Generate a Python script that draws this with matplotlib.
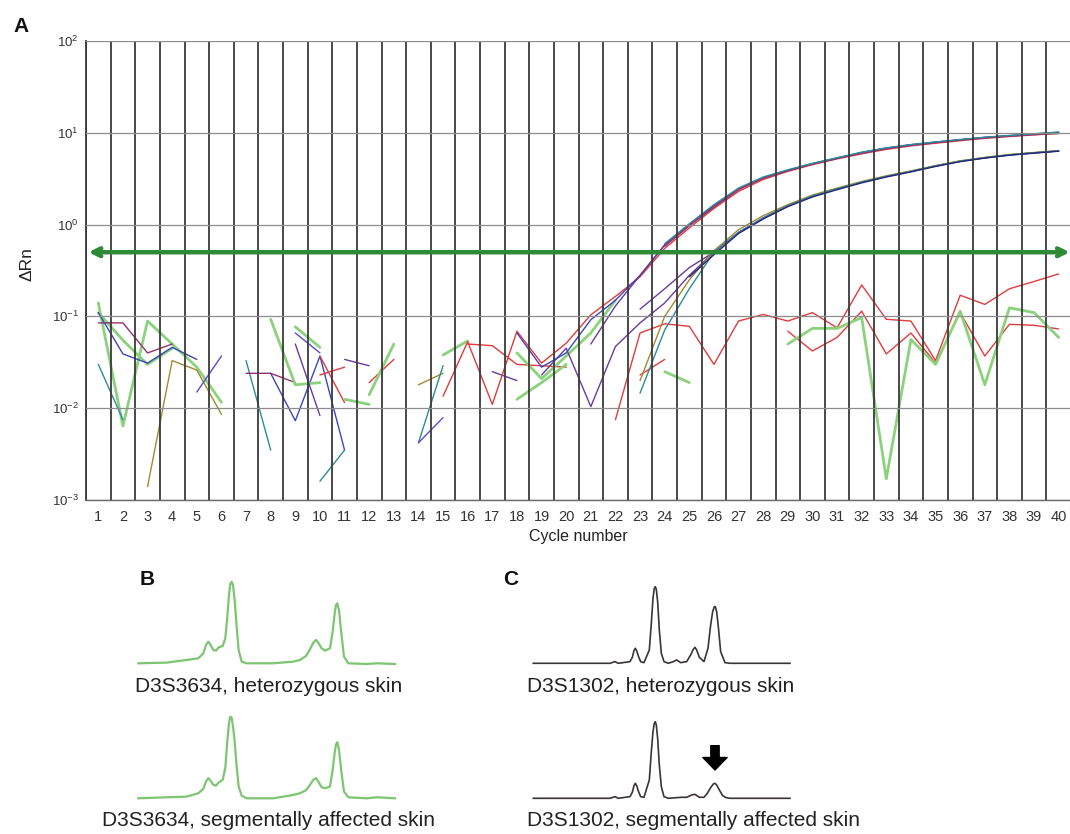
import numpy as np
import matplotlib
matplotlib.use('Agg')
import matplotlib.pyplot as plt
from matplotlib.ticker import NullLocator

plt.rcParams['font.family'] = ['Liberation Sans', 'DejaVu Sans']
plt.rcParams['mathtext.fontset'] = 'custom'
plt.rcParams['mathtext.rm'] = 'Liberation Sans'
plt.rcParams['mathtext.it'] = 'Liberation Sans:italic'

W, H = 1070, 834

# ---- panel A data: delta Rn per cycle, (colour key, first cycle, values)
RED, GREEN, BLUE, PURPLE = '#e23b3b', '#8bd27c', '#3a46c2', '#6b3a9c'
MAGENTA, TEAL, OLIVE, NAVY, VIOLET = '#9a2f6e', '#2b8c98', '#a08a32', '#25267c', '#5a4bd0'

threshold = 0.5

up_tail = [0.6, 1.0, 1.6, 2.45, 3.25, 3.9, 4.6, 5.3, 6.1, 6.8, 7.4, 7.9, 8.4, 8.9, 9.3, 9.7, 10.1]
red_tail = [0.55, 0.92, 1.5, 2.3, 3.1, 3.8, 4.5, 5.2, 5.9, 6.6, 7.2, 7.7, 8.2, 8.7, 9.1, 9.5, 9.8]
teal_tail = [0.62, 1.02, 1.65, 2.5, 3.3, 3.95, 4.65, 5.35, 6.15, 6.85, 7.45, 7.95, 8.45, 8.95, 9.35, 9.75, 10.2]
mag_tail = [0.58, 0.97, 1.55, 2.4, 3.2, 3.85, 4.55, 5.25, 6.0, 6.7, 7.3, 7.8, 8.3, 8.8, 9.2, 9.55, 9.9]
lo_tail = [0.5, 0.82, 1.18, 1.6, 2.05, 2.45, 2.9, 3.35, 3.8, 4.35, 4.9, 5.35, 5.75, 6.05, 6.35]
olive_tail = [0.52, 0.88, 1.25, 1.65, 2.1, 2.5, 2.95, 3.4, 3.85, 4.4, 4.95, 5.4, 5.8, 6.1, 6.4]
navy_tail = [0.47, 0.8, 1.15, 1.57, 2.0, 2.4, 2.85, 3.3, 3.75, 4.3, 4.85, 5.3, 5.7, 6.0, 6.3]

noise = [
    (GREEN, 1, [0.14, 0.0064, 0.089, 0.05, 0.028, 0.0116]),
    (GREEN, 1, [0.11, 0.055, 0.03, 0.045]),
    (MAGENTA, 1, [0.085, 0.085, 0.04, 0.05]),
    (BLUE, 1, [0.11, 0.039, 0.031, 0.046, 0.034]),
    (TEAL, 1, [0.03, 0.0075]),
    (OLIVE, 3, [0.0014, 0.033, 0.026, 0.0086]),
    (VIOLET, 5, [0.015, 0.037]),
    (TEAL, 7, [0.033, 0.0035]),
    (MAGENTA, 7, [0.024, 0.024, 0.019]),
    (BLUE, 8, [0.024, 0.0073, 0.037, 0.0035]),
    (GREEN, 8, [0.093, 0.018, 0.019]),
    (GREEN, 9, [0.077, 0.046]),
    (VIOLET, 9, [0.066, 0.04]),
    (PURPLE, 9, [0.05, 0.0083]),
    (RED, 10, [0.037, 0.0115]),
    (RED, 10, [0.023, 0.028]),
    (TEAL, 10, [0.0016, 0.0035]),
    (GREEN, 11, [0.0125, 0.011]),
    (PURPLE, 11, [0.034, 0.029]),
    (RED, 12, [0.019, 0.034]),
    (GREEN, 12, [0.014, 0.05]),
    (OLIVE, 14, [0.018, 0.024]),
    (TEAL, 14, [0.0042, 0.029]),
    (VIOLET, 14, [0.0042, 0.0079]),
    (GREEN, 15, [0.038, 0.054]),
    (RED, 16, [0.05, 0.048, 0.03, 0.029, 0.028]),
    (PURPLE, 17, [0.025, 0.02]),
    (GREEN, 18, [0.0125, 0.019, 0.03]),
    (RED, 22, [0.0075, 0.066, 0.083, 0.078, 0.03, 0.089, 0.105, 0.089, 0.11, 0.075,
               0.22, 0.093, 0.089, 0.033, 0.17, 0.135, 0.2, 0.24, 0.29]),
    (RED, 23, [0.023, 0.034]),
    (GREEN, 24, [0.025, 0.019]),
    (RED, 29, [0.069, 0.042, 0.059, 0.114, 0.039, 0.066, 0.031, 0.11, 0.037, 0.082, 0.08, 0.073]),
    (GREEN, 29, [0.05, 0.074, 0.074, 0.097, 0.0017, 0.056, 0.03, 0.114, 0.018, 0.124, 0.11, 0.059]),
]

amplified = [
    (GREEN, 18, [0.04, 0.021, 0.037, 0.066, 0.15]),
    (PURPLE, 19, [0.023, 0.045, 0.0104, 0.047, 0.085, 0.14, 0.28] + lo_tail),
    (PURPLE, 23, [0.12, 0.2, 0.34] + lo_tail),
    (OLIVE, 23, [0.02, 0.1, 0.25] + olive_tail),
    (TEAL, 23, [0.0146, 0.071, 0.2] + lo_tail),
    (NAVY, 25, [0.27] + navy_tail),
    (RED, 15, [0.0135, 0.053, 0.011, 0.069, 0.031, 0.051, 0.104, 0.165, 0.27] + red_tail),
    (BLUE, 18, [0.066, 0.028, 0.04, 0.092, 0.15, 0.28] + up_tail),
    (PURPLE, 21, [0.05, 0.13, 0.28] + up_tail),
    (MAGENTA, 24, mag_tail),
    (TEAL, 24, teal_tail),
]

# ---- panels B/C: electropherogram traces (size axis, peak height)
b_x = [115, 200, 260, 295, 310, 318, 325, 332, 340, 348, 356, 368, 376, 382, 387, 391, 395, 399,
       404, 410, 416, 425, 440, 520, 580, 600, 618, 630, 640, 648, 656, 665, 675, 690, 698, 704,
       708, 712, 717, 724, 732, 745, 800, 830, 885]
b_top_h = [0, 2, 10, 15, 30, 55, 65, 55, 40, 38, 48, 52, 75, 140, 205, 238, 245, 235,
           190, 110, 40, 5, 0, 0, 5, 10, 22, 42, 62, 70, 60, 45, 38, 45, 95, 150,
           175, 180, 160, 90, 20, 0, -2, 0, -2]
b_bot_h = [0, 3, 5, 15, 28, 50, 60, 52, 40, 38, 47, 55, 90, 170, 225, 243, 240, 215,
           170, 95, 35, 8, 0, 0, 10, 15, 24, 40, 55, 60, 48, 33, 30, 35, 85, 135,
           160, 167, 145, 80, 20, 3, 0, 3, 0]
c_top_x = [100, 330, 345, 355, 390, 397, 402, 406, 410, 415, 422, 432, 448, 454, 459, 463, 466,
           469, 473, 478, 484, 492, 505, 520, 530, 542, 560, 572, 580, 585, 590, 598, 612, 624,
           632, 638, 643, 646, 650, 655, 662, 675, 690, 870]
c_top_h = [0, 0, 5, 0, 5, 18, 38, 45, 38, 22, 5, 2, 40, 120, 195, 225, 230,
           222, 185, 100, 30, 5, 0, 5, 10, 2, 5, 25, 42, 48, 40, 18, 5, 45,
           115, 155, 170, 170, 155, 110, 35, 2, 0, 0]
c_bot_x = [100, 330, 345, 355, 390, 397, 402, 406, 410, 415, 422, 432, 448, 454, 459, 463, 466,
           469, 473, 478, 484, 492, 505, 545, 560, 575, 585, 598, 612, 622, 632, 640, 645, 650,
           658, 668, 678, 690, 870]
c_bot_h = [0, 0, 5, 0, 5, 18, 38, 45, 38, 22, 5, 3, 55, 140, 200, 225, 230,
           220, 180, 100, 35, 5, 0, 3, 3, 10, 12, 3, 3, 15, 32, 43, 45, 40,
           25, 8, 2, 0, 0]
lost_allele = 645

b_labels = ['D3S3634, heterozygous skin', 'D3S3634, segmentally affected skin']
c_labels = ['D3S1302, heterozygous skin', 'D3S1302, segmentally affected skin']


def px_box(x0, y0, x1, y1):
    # pixel box (top-left origin) -> figure fraction rect
    return [x0 / W, 1 - y1 / H, (x1 - x0) / W, (y1 - y0) / H]


def fx(x):
    return x / W


def fy(y):
    return 1 - y / H


fig = plt.figure(figsize=(W / 100, H / 100), dpi=100)

# ---------------- panel A
ax = fig.add_axes(px_box(86, 41, 1071, 500))
ax.set_yscale('log')
for col, start, vals in noise + amplified:
    cyc = np.arange(start, start + len(vals))
    lw = 2.0 if col == GREEN else 1.0
    ax.plot(cyc, vals, color=col, lw=lw, zorder=2, solid_capstyle='round')

ax.set_xlim(0.5, 40.5)
ax.set_ylim(1e-3, 1e2)
ax.set_xticks(np.arange(1, 41))
ax.set_xticks(np.arange(0.5, 41), minor=True)
ax.set_yticks([1e-3, 1e-2, 1e-1, 1e0, 1e1, 1e2])
ax.yaxis.set_minor_locator(NullLocator())
ax.set_yticklabels([r'$10^{-3}$', r'$10^{-2}$', r'$10^{-1}$', r'$10^{0}$', r'$10^{1}$', r'$10^{2}$'],
                   fontsize=9.5, color='#333333')
ax.set_xticklabels([str(i) for i in range(1, 41)], fontsize=10.5, color='#333333')
ax.tick_params(which='both', length=0)
ax.tick_params(axis='x', pad=7)
ax.tick_params(axis='y', pad=5)
ax.set_axisbelow(False)
ax.grid(which='minor', axis='x', color='#3a3a3a', lw=1.3)
ax.grid(which='major', axis='y', color='#8c8c8c', lw=0.9)
ax.grid(which='major', axis='x', visible=False)
for s in ax.spines.values():
    s.set_visible(False)
ax.spines['left'].set_visible(True)
ax.spines['left'].set_color('#3a3a3a')
ax.spines['left'].set_linewidth(1.3)
ax.spines['bottom'].set_visible(True)
ax.spines['bottom'].set_color('#6a6a6a')
ax.spines['bottom'].set_linewidth(1.0)

ax.annotate('', xy=(0.6, threshold), xytext=(40.45, threshold),
            arrowprops=dict(arrowstyle='<->', color='#2f8a36', lw=3.2,
                            shrinkA=0, shrinkB=0, mutation_scale=14), zorder=4)

fig.text(fx(578), fy(537), 'Cycle number', fontsize=11.5, ha='center', va='center', color='#222222')
fig.text(fx(27), fy(264), 'ΔRn', fontsize=12.5, rotation=90, ha='center', va='center', color='#222222')
fig.text(fx(13), fy(32), 'A', fontsize=15, fontweight='bold', color='#111111')
fig.text(fx(140), fy(585), 'B', fontsize=15, fontweight='bold', color='#111111')
fig.text(fx(503), fy(585), 'C', fontsize=15, fontweight='bold', color='#111111')


# ---------------- panels B and C
def trace(box, xs, hs, col, lw):
    t = fig.add_axes(px_box(*box))
    t.plot(xs, hs, color=col, lw=lw, clip_on=False, solid_joinstyle='round')
    t.set_xlim(min(xs), max(xs))
    t.set_ylim(0, max(hs))
    t.axis('off')
    return t


green_tr = '#7cc571'
dark_tr = '#3b3434'
trace((138.3, 581.7, 395, 663.3), b_x, b_top_h, green_tr, 1.6)
trace((138.3, 716.7, 395, 798.3), b_x, b_bot_h, green_tr, 1.6)
trace((533.3, 586.7, 790, 663.3), c_top_x, c_top_h, dark_tr, 1.2)
tc = trace((533.3, 721.7, 790, 798.3), c_bot_x, c_bot_h, dark_tr, 1.2)
tc.annotate('', xy=(lost_allele, 85), xytext=(lost_allele, 158),
            arrowprops=dict(arrowstyle='simple,head_width=1.75,head_length=0.9,tail_width=0.6',
                            color='black', shrinkA=0, shrinkB=0, mutation_scale=10),
            annotation_clip=False)

fig.text(fx(269), fy(691.5), b_labels[0], fontsize=15, ha='center', va='baseline', color='#222222')
fig.text(fx(269), fy(826), b_labels[1], fontsize=15, ha='center', va='baseline', color='#222222')
fig.text(fx(527), fy(691.5), c_labels[0], fontsize=15, ha='left', va='baseline', color='#222222')
fig.text(fx(527), fy(826), c_labels[1], fontsize=15, ha='left', va='baseline', color='#222222')

fig.savefig('out.png', dpi=100)
